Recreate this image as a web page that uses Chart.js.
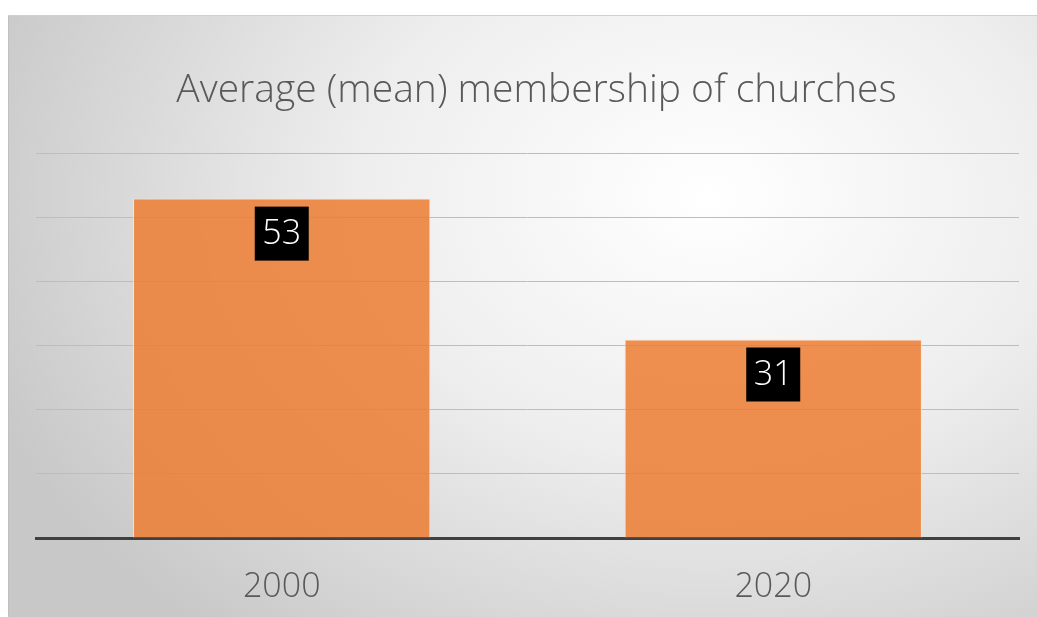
<!DOCTYPE html>
<html>
<head>
<meta charset="utf-8">
<script src="https://cdn.jsdelivr.net/npm/chart.js@4"></script>
<style>
  html, body { margin: 0; padding: 0; background: #fff; }
  #wrap {
    position: absolute; left: 8px; top: 15px; width: 1029px; height: 602px;
    background: radial-gradient(ellipse 75% 95% at 68% 30%, #ffffff 0%, #eeeeee 45%, #c8c8c8 100%);
    border-left: 1px solid #c0c0c0; border-top: 1px solid #d0d0d0;
    box-sizing: border-box;
  }
  canvas { display: block; }
</style>
</head>
<body>
<div id="wrap"><canvas id="chart" width="1028" height="601"></canvas></div>
<script>
const categories = ['2000', '2020'];
const membership = [53, 31];
const titleText = 'Average (mean) membership of churches';

const FONT = "'Open Sans', 'Noto Sans', sans-serif";

const boxLabels = {
    id: 'boxLabels',
    afterDatasetsDraw(chart) {
        const ctx = chart.ctx;
        const meta = chart.getDatasetMeta(0);
        ctx.save();
        ctx.font = '300 34px ' + FONT;
        ctx.textAlign = 'center';
        ctx.textBaseline = 'middle';
        meta.data.forEach((bar, i) => {
            const size = 54;
            const top = bar.y + 8;
            ctx.fillStyle = '#000';
            ctx.fillRect(bar.x - size / 2, top, size, size);
            ctx.fillStyle = '#fff';
            ctx.fillText(String(membership[i]), bar.x, top + size / 2 + 1);
        });
        ctx.restore();
    }
};

new Chart(document.getElementById('chart').getContext('2d'), {
    type: 'bar',
    data: {
        labels: categories,
        datasets: [{
            data: membership,
            backgroundColor: 'rgba(237,125,49,0.85)',
            borderColor: 'rgba(255,230,210,0.8)',
            borderWidth: 1,
            barPercentage: 0.605,
            categoryPercentage: 1.0
        }]
    },
    options: {
        responsive: false,
        animation: false,
        layout: { padding: { left: 27, right: 0, bottom: 0 } },
        plugins: {
            legend: { display: false },
            tooltip: { enabled: false },
            title: {
                display: true,
                text: titleText,
                color: '#595959',
                font: { family: FONT, size: 39, weight: '300' },
                padding: { top: 51, bottom: 40 }
            }
        },
        scales: {
            x: {
                grid: { display: false, drawTicks: false },
                border: { display: true, color: '#404040', width: 3 },
                ticks: {
                    color: '#595959',
                    padding: 29,
                    font: { family: FONT, size: 34, weight: '300' }
                },
                afterFit(scale) { scale.height = 79; }
            },
            y: {
                min: 0,
                max: 60,
                ticks: { display: false, stepSize: 10 },
                grid: { color: '#bdbdbd', lineWidth: 1, drawTicks: false },
                border: { display: false },
                afterFit(scale) { scale.width = 0; }
            },
            yr: {
                position: 'right',
                display: true,
                ticks: { display: false },
                grid: { display: false, drawTicks: false },
                border: { display: false },
                afterFit(scale) { scale.width = 18; }
            }
        }
    },
    plugins: [boxLabels]
});
</script>
</body>
</html>
